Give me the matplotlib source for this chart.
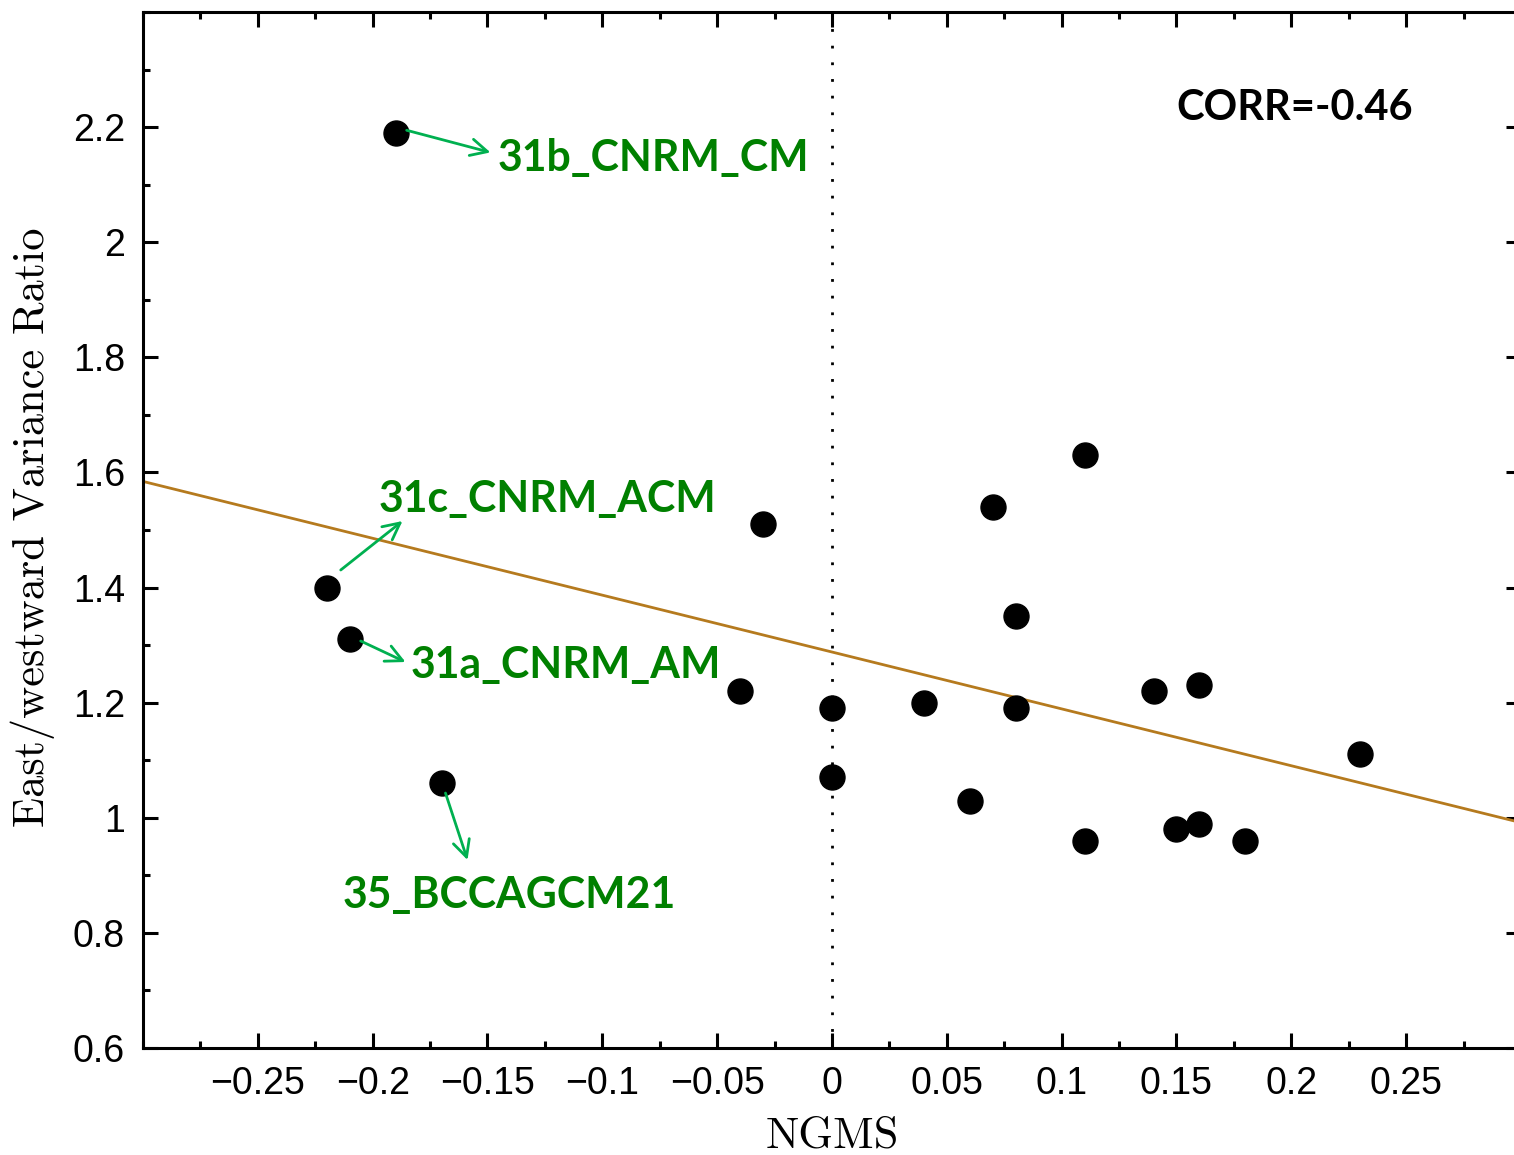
import numpy as np
import matplotlib
matplotlib.use("Agg")
import matplotlib.pyplot as plt
from matplotlib.ticker import FixedLocator, MultipleLocator

# 数据 (NGMS, East/westward variance ratio)
ngms = [-0.19, -0.22, -0.21, -0.17, -0.04, -0.03, 0.00, 0.00, 0.04, 0.06, 0.07,
        0.08, 0.08, 0.11, 0.11, 0.14, 0.15, 0.16, 0.16, 0.18, 0.23]
ratio = [2.19, 1.40, 1.31, 1.06, 1.22, 1.51, 1.19, 1.07, 1.20, 1.03, 1.54,
         1.35, 1.19, 1.63, 0.96, 1.22, 0.98, 1.23, 0.99, 0.96, 1.11]

# 回归线
fit_slope = -0.988
fit_intercept = 1.288
corr_text = "CORR=-0.46"

# 标注的模式
labels = ["31b_CNRM_CM", "31c_CNRM_ACM", "31a_CNRM_AM", "35_BCCAGCM21"]
label_xy = [(-0.1457, 2.124), (-0.1974, 1.531), (-0.1835, 1.243), (-0.2130, 0.843)]
arrow_from = [(-0.1852, 2.1945), (-0.2139, 1.4305), (-0.2052, 1.3071), (-0.1683, 1.043)]
arrow_to = [(-0.1487, 2.156), (-0.187, 1.5156), (-0.1857, 1.2706), (-0.1587, 0.9266)]

xticks = [-0.25, -0.2, -0.15, -0.1, -0.05, 0, 0.05, 0.1, 0.15, 0.2, 0.25]
xticklabels = ["\u22120.25", "\u22120.2", "\u22120.15", "\u22120.1", "\u22120.05",
               "0", "0.05", "0.1", "0.15", "0.2", "0.25"]
yticks = [0.6, 0.8, 1.0, 1.2, 1.4, 1.6, 1.8, 2.0, 2.2]
yticklabels = ["0.6", "0.8", "1", "1.2", "1.4", "1.6", "1.8", "2", "2.2"]

fig = plt.figure(figsize=(15.14, 11.55), dpi=100)
ax = fig.add_axes([143 / 1514, (1155 - 1048) / 1155, (1521 - 143) / 1514, (1048 - 12) / 1155])

ax.set_xlim(-0.3, 0.3)
ax.set_ylim(0.6, 2.4)

# 零线
ax.axvline(0, color='black', linestyle=(0, (1, 5)), linewidth=2, zorder=1)

# 回归线
xx = np.array([-0.3, 0.3])
ax.plot(xx, fit_slope * xx + fit_intercept, color='#b57a1e', linewidth=2, zorder=2)

# 散点
ax.plot(ngms, ratio, 'o', color='black', markersize=18, zorder=3)

# 标注
for lab, (tx, ty), p0, p1 in zip(labels, label_xy, arrow_from, arrow_to):
    ax.annotate("", xy=p1, xytext=p0,
                arrowprops=dict(arrowstyle='->', color='#00b050', lw=2,
                                mutation_scale=30, shrinkA=0, shrinkB=0), zorder=4)
    ax.text(tx, ty, lab, color='#008000', fontsize=30.8, fontweight='bold',
            fontfamily='Lato', ha='left', va='baseline', zorder=5)

ax.text(0.15, 2.212, corr_text, color='black', fontsize=30, fontweight='bold',
        fontfamily='Lato', ha='left', va='baseline')

# 坐标轴刻度
ax.xaxis.set_major_locator(FixedLocator(xticks))
ax.set_xticklabels(xticklabels)
ax.xaxis.set_minor_locator(MultipleLocator(0.025))
ax.yaxis.set_major_locator(FixedLocator(yticks))
ax.set_yticklabels(yticklabels)
ax.yaxis.set_minor_locator(MultipleLocator(0.1))

ax.tick_params(which='both', direction='in', top=True, right=True, width=2.2)
ax.tick_params(which='major', length=11, pad=13, labelsize=27)
ax.tick_params(which='minor', length=5)
for t in ax.get_xticklabels() + ax.get_yticklabels():
    t.set_fontfamily('Liberation Sans')

for s in ax.spines.values():
    s.set_linewidth(2.2)

ax.set_xlabel("NGMS", fontfamily='cmr10', fontsize=32)
ax.xaxis.set_label_coords(0.5, -0.066)
ax.set_ylabel("East/westward Variance Ratio", fontfamily='cmr10', fontsize=32)
ax.yaxis.set_label_coords(-0.064, 0.503)

plt.savefig("out.png", dpi=100)
plt.close()
